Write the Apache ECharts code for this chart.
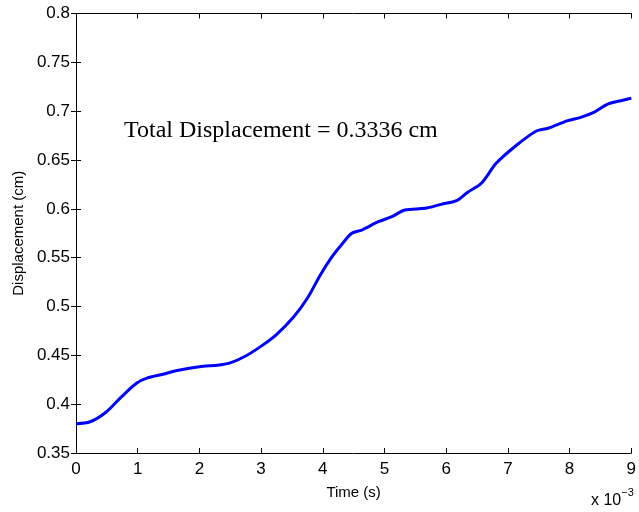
<!DOCTYPE html>
<html>
<head>
<meta charset="utf-8">
<script src="https://cdn.jsdelivr.net/npm/echarts@6/dist/echarts.min.js"></script>
<style>html,body{margin:0;padding:0;background:#fff}#c{width:639px;height:512px}</style>
</head>
<body>
<div id="c"></div>
<script>
// time in units of 1e-3 s
var timeMs = [0, 0.23, 0.49, 0.74, 0.98, 1.17, 1.41, 1.62, 2.0, 2.32, 2.51, 2.75, 2.99, 3.24, 3.53, 3.75, 3.96, 4.15, 4.3, 4.47, 4.63, 4.9, 5.12, 5.33, 5.66, 5.92, 6.1, 6.19, 6.35, 6.57, 6.81, 7.11, 7.46, 7.65, 7.97, 8.18, 8.4, 8.61, 8.83, 9.0];
var displacement = [0.380, 0.382, 0.392, 0.4077, 0.4214, 0.4271, 0.4306, 0.4343, 0.4384, 0.4401, 0.4425, 0.4493, 0.4589, 0.4708, 0.4896, 0.5084, 0.5323, 0.551, 0.563, 0.575, 0.5783, 0.5868, 0.5919, 0.5988, 0.6005, 0.6046, 0.607, 0.609, 0.617, 0.6262, 0.6466, 0.6636, 0.6797, 0.6825, 0.6903, 0.6937, 0.6991, 0.7070, 0.7107, 0.7132];
var annotationText = 'Total Displacement = 0.3336 cm';
var xName = 'Time (s)';
var yName = 'Displacement (cm)';

var pts = timeMs.map(function (t, i) { return [t, displacement[i]]; });
var chart = echarts.init(document.getElementById('c'), null, {renderer: 'canvas'});
var sans = 'Liberation Sans, Arial, sans-serif';
var labelFont = {fontFamily: sans, fontSize: 17, color: '#000'};
var nameFont = {fontFamily: sans, fontSize: 15, color: '#000'};
var axLine = {show: true, lineStyle: {color: '#000', width: 1}};
var tick = {show: true, inside: true, length: 5, lineStyle: {color: '#000'}};
chart.setOption({
  animation: false,
  grid: {left: 76, right: 5, top: 13.5, bottom: 59, containLabel: false},
  xAxis: [{
    type: 'value', min: 0, max: 9, interval: 1,
    axisLine: axLine, axisTick: tick, splitLine: {show: false},
    axisLabel: Object.assign({margin: 8}, labelFont),
    name: xName, nameLocation: 'middle', nameGap: 32,
    nameTextStyle: nameFont
  }, {
    type: 'value', min: 0, max: 9, interval: 1, position: 'top',
    axisLine: axLine, axisTick: tick, axisLabel: {show: false}, splitLine: {show: false}
  }],
  yAxis: [{
    type: 'value', min: 0.35, max: 0.8, interval: 0.05,
    axisLine: axLine, axisTick: tick, splitLine: {show: false},
    axisLabel: Object.assign({margin: 6, formatter: function (v) { return String(+v.toFixed(2)); }}, labelFont),
    name: yName, nameLocation: 'middle', nameGap: 50, nameRotate: 90,
    nameTextStyle: nameFont
  }, {
    type: 'value', min: 0.35, max: 0.8, interval: 0.05, position: 'right',
    axisLine: axLine, axisTick: tick, axisLabel: {show: false}, splitLine: {show: false}
  }],
  series: [{
    type: 'line', data: pts, xAxisIndex: 0, yAxisIndex: 0,
    showSymbol: false, smooth: 0.3,
    lineStyle: {color: '#0000ff', width: 3}
  }],
  graphic: [{
    type: 'text', left: 124, top: 119,
    style: {text: annotationText, font: '24px "Liberation Serif", "Times New Roman", serif', fill: '#000'}
  }, {
    type: 'text', left: 591, top: 487,
    style: {
      text: '{a|x 10}{b|\u22123}',
      rich: {
        a: {font: '16px "Liberation Sans", Arial, sans-serif', fill: '#000', verticalAlign: 'bottom'},
        b: {font: '11px "Liberation Sans", Arial, sans-serif', fill: '#000', padding: [0, 0, 11, 0]}
      }
    }
  }]
});
</script>
</body>
</html>
